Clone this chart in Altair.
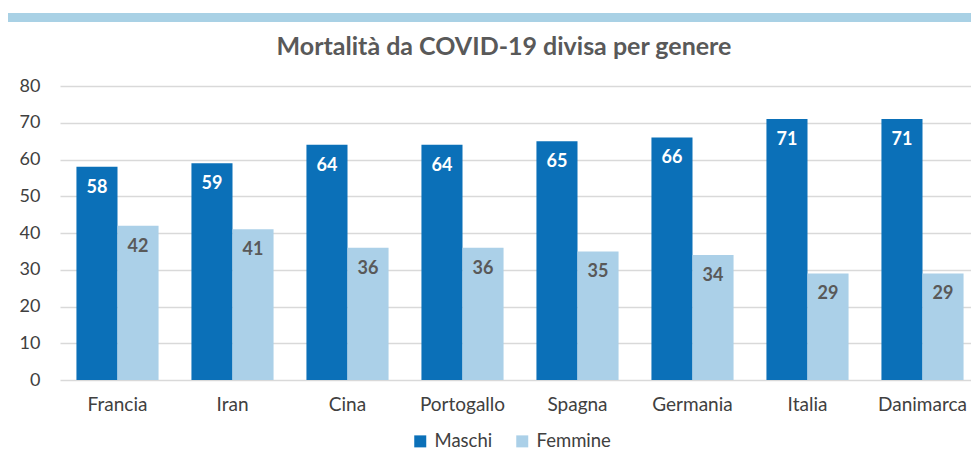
import altair as alt
import pandas as pd

countries = ["Francia", "Iran", "Cina", "Portogallo", "Spagna", "Germania", "Italia", "Danimarca"]
maschi = [58, 59, 64, 64, 65, 66, 71, 71]
femmine = [42, 41, 36, 36, 35, 34, 29, 29]
series = ["Maschi", "Femmine"]
colors = ["#0B70B8", "#ABD0E8"]
label_colors = ["#FFFFFF", "#595959"]
title_text = "Mortalità da COVID-19 divisa per genere"

rows = []
for c, m, f in zip(countries, maschi, femmine):
    rows.append({"paese": c, "genere": "Maschi", "valore": m})
    rows.append({"paese": c, "genere": "Femmine", "valore": f})
df = pd.DataFrame(rows)

FONT = "Lato"

x = alt.X("paese:N", sort=countries, title=None,
          scale=alt.Scale(paddingInner=0.286, paddingOuter=0.143),
          axis=alt.Axis(labelAngle=0, labelFontSize=19, labelColor="#404040",
                        labelFont=FONT, labelPadding=15, ticks=False, domain=False))
xoff = alt.XOffset("genere:N", sort=series, scale=alt.Scale(paddingInner=0, paddingOuter=0))
y = alt.Y("valore:Q", title=None,
          scale=alt.Scale(domain=[0, 80]),
          axis=alt.Axis(values=list(range(0, 81, 10)), labelFontSize=18, labelColor="#404040",
                        labelFont=FONT, labelPadding=20, ticks=False, domain=False,
                        gridColor="#D9D9D9", gridWidth=1.5))

base = alt.Chart(df)

bars = base.mark_bar().encode(
    x=x, xOffset=xoff, y=y,
    color=alt.Color("genere:N", sort=series,
                    scale=alt.Scale(domain=series, range=colors),
                    legend=alt.Legend(title=None, orient="none", direction="horizontal",
                                      legendX=351, legendY=346, symbolType="square",
                                      symbolSize=144, symbolStrokeWidth=0,
                                      labelFontSize=18.5, labelColor="#404040", labelFont=FONT,
                                      columnPadding=20, labelOffset=5)),
)

labels = base.mark_text(fontSize=18, fontWeight="bold", font=FONT, baseline="middle", dy=21).encode(
    x=x, xOffset=xoff, y=y,
    text=alt.Text("valore:Q"),
    color=alt.Color("genere:N", sort=series,
                    scale=alt.Scale(domain=series, range=label_colors), legend=None),
)

band = alt.Chart(pd.DataFrame({"v": [0]})).mark_rule(color="#A9D1E5", strokeWidth=9).encode(
    x=alt.value(-55), x2=alt.value(925), y=alt.value(-68.5)
)

title = alt.Chart(pd.DataFrame({"t": [title_text]})).mark_text(
    fontSize=25, font=FONT, fontWeight="bold", color="#595959", baseline="middle", align="center"
).encode(text="t:N", x=alt.value(444), y=alt.value(-39))

chart = alt.layer(band, title, bars, labels).resolve_scale(color="independent").properties(
    width=920, height=294,
    autosize=alt.AutoSizeParams(type="none"),
    padding={"left": 52, "top": 78, "right": -9, "bottom": 72},
).configure_view(stroke=None)

chart.save("out.html", embed_options={"renderer": "svg", "actions": False})
